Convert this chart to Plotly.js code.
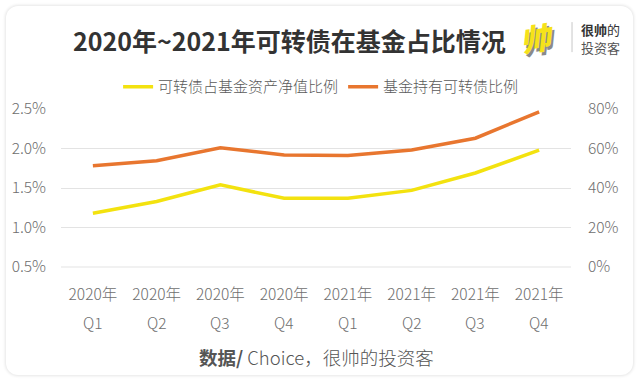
<!DOCTYPE html>
<html>
<head>
<meta charset="utf-8">
<script src="https://cdn.plot.ly/plotly-3.0.1.min.js"></script>
<style>
  html, body { margin: 0; padding: 0; background: #ffffff; }
  #wrap { position: relative; width: 640px; height: 382px; overflow: hidden; }
  #card { position: absolute; left: 6px; top: 6px; width: 627px; height: 369px;
          border-radius: 12px; background: #fff;
          box-shadow: 0 0 3px 1px rgba(0,0,0,0.10); }
  #chart { position: absolute; left: 0; top: 0; width: 640px; height: 382px; }
</style>
</head>
<body>
<div id="wrap">
  <div id="card"></div>
  <div id="chart"></div>
</div>
<script>
// ---- data ----
const years = ['2020年', '2020年', '2020年', '2020年', '2021年', '2021年', '2021年', '2021年'];
const quarters = ['Q1', 'Q2', 'Q3', 'Q4', 'Q1', 'Q2', 'Q3', 'Q4'];
const categories = years.map((y, i) => y + ' ' + quarters[i]);
const seriesNames = ['可转债占基金资产净值比例', '基金持有可转债比例'];
// share of fund net assets (left axis)
const navShare = [0.0118, 0.0133, 0.0154, 0.0137, 0.0137, 0.0147, 0.0169, 0.0198];
// share of funds holding convertible bonds (right axis)
const holdShare = [0.513, 0.538, 0.604, 0.567, 0.564, 0.592, 0.652, 0.786];

const FONT = '"Noto Sans CJK SC", "Noto Sans", sans-serif';
const YELLOW = '#F3E20F';
const ORANGE = '#E8762F';
const TICK = '#6e6e6e';
const TICKFONT = { family: FONT, size: 15.5, color: TICK, weight: 300 };

const traces = [
  { x: categories, y: navShare, name: seriesNames[0], type: 'scatter', mode: 'lines',
    line: { color: YELLOW, width: 3.5 }, yaxis: 'y' },
  { x: categories, y: holdShare, name: seriesNames[1], type: 'scatter', mode: 'lines',
    line: { color: ORANGE, width: 3.5 }, yaxis: 'y2' }
];

const quarterLabels = categories.map((c, i) => ({
  text: quarters[i], xref: 'x', yref: 'paper', x: c, y: -0.35, showarrow: false,
  font: TICKFONT, xanchor: 'center', yanchor: 'middle'
}));

const layout = {
  width: 640, height: 382,
  paper_bgcolor: 'rgba(0,0,0,0)', plot_bgcolor: 'rgba(0,0,0,0)',
  margin: { l: 61, r: 69, t: 109, b: 115 },
  font: { family: FONT, color: TICK, size: 15 },
  showlegend: true,
  legend: { orientation: 'h', x: 0.51, xanchor: 'center', y: 1.14, yanchor: 'middle',
            font: { family: FONT, size: 15, color: '#5a5a5a', weight: 300 }, itemwidth: 30, tracegroupgap: 0 },
  title: { text: '2020年~2021年可转债在基金占比情况', x: 0.452, xanchor: 'center', y: 0.89, yanchor: 'middle',
           font: { family: FONT, size: 25, color: '#333', weight: 700 } },
  xaxis: { type: 'category', range: [-0.5, 7.5], showgrid: false, zeroline: false, showline: false,
           ticks: '', tickmode: 'array', tickvals: categories, ticktext: years,
           tickfont: TICKFONT, ticklabelstandoff: 16 },
  yaxis: { range: [0.005, 0.025], dtick: 0.005, tick0: 0.005, tickformat: '.1%',
           showgrid: true, gridcolor: '#e3e3e3', gridwidth: 1, zeroline: false, showline: false,
           ticks: '', tickfont: TICKFONT, ticklabelstandoff: 14 },
  yaxis2: { range: [0, 0.8], dtick: 0.2, tickformat: '.0%', overlaying: 'y', side: 'right',
            showgrid: false, zeroline: false, showline: false, ticks: '',
            tickfont: TICKFONT, ticklabelstandoff: 16 },
  shapes: [
    { type: 'line', xref: 'paper', yref: 'paper', x0: 0, x1: 1, y0: 0, y1: 0,
      line: { color: '#e3e3e3', width: 1 } },
    { type: 'line', xref: 'paper', yref: 'paper', x0: 1.002, x1: 1.002, y0: 1.36, y1: 1.55,
      line: { color: '#c8c8c8', width: 1 } }
  ],
  annotations: quarterLabels.concat([
    { text: '<i>帅</i>', xref: 'paper', yref: 'paper', x: 0.933, y: 1.456, showarrow: false,
      font: { family: FONT, size: 30, color: '#8a8a8a', weight: 900 }, xanchor: 'center', yanchor: 'middle',
      textangle: -8, xshift: 2, yshift: -3 },
    { text: '<i>帅</i>', xref: 'paper', yref: 'paper', x: 0.933, y: 1.456, showarrow: false,
      font: { family: FONT, size: 30, color: '#F6E21A', weight: 900 }, xanchor: 'center', yanchor: 'middle',
      textangle: -8 },
    { text: '<b>很帅</b>的', xref: 'paper', yref: 'paper', x: 1.016, y: 1.506, showarrow: false,
      font: { family: FONT, size: 13, color: '#333' }, xanchor: 'left', yanchor: 'middle' },
    { text: '投资客', xref: 'paper', yref: 'paper', x: 1.016, y: 1.392, showarrow: false,
      font: { family: FONT, size: 13, color: '#555' }, xanchor: 'left', yanchor: 'middle' },
    { text: '<b>数据/</b> Choice，很帅的投资客', xref: 'paper', yref: 'paper', x: 0.5, y: -0.57,
      showarrow: false, font: { family: FONT, size: 18.5, color: '#555', weight: 300 }, xanchor: 'center', yanchor: 'middle' }
  ])
};

Plotly.newPlot('chart', traces, layout, { displayModeBar: false, staticPlot: true });
</script>
</body>
</html>
